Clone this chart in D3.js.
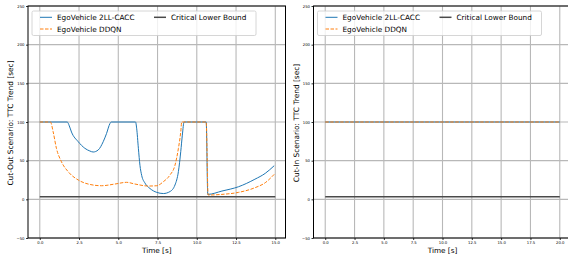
<!DOCTYPE html>
<html>
<head>
<meta charset="utf-8">
<script src="https://cdn.jsdelivr.net/npm/d3@7"></script>
<style>
  body { margin: 0; background: #fff; overflow: hidden; }
  svg text { font-family: "DejaVu Sans", sans-serif; }
</style>
</head>
<body>
<div id="chart"></div>
<script>
// data
var cutOutCaccTime = [0, 1.75, 1.88, 2.02, 2.45, 2.87, 3.19, 3.4, 3.72, 4.04, 4.25, 4.47, 4.55, 6.1, 6.17, 6.28, 6.38, 6.49, 6.7, 7.02, 7.45, 7.87, 8.29, 8.61, 8.83, 8.98, 9.08, 9.19, 10.6, 10.7, 11.6, 12.66, 13.7, 14.36, 14.93];
var cutOutCaccTTC  = [100, 100, 95, 87, 74.5, 66, 62.5, 61.2, 63.8, 74.5, 85, 98, 100, 100, 92, 66, 44, 31, 21, 14, 9, 7.5, 10, 18.5, 36, 62, 83, 100, 100, 6.4, 10.7, 16.3, 26, 33.6, 43.5];
var cutOutDdqnTime = [0, 0.68, 0.85, 1.06, 1.38, 1.81, 2.45, 3.08, 3.94, 4.79, 5.53, 6.06, 6.91, 7.45, 7.87, 8.29, 8.61, 8.83, 8.98, 9.04, 10.6, 10.72, 11.6, 12.66, 13.7, 14.36, 14.93];
var cutOutDdqnTTC  = [100, 100, 87.5, 66, 48.6, 35.7, 25, 19.8, 17.6, 19.8, 22, 19.8, 17.2, 17.6, 22.8, 31.4, 44, 66, 87.5, 100, 100, 5.6, 6.4, 9, 15, 21.5, 32.3];
var cutOutBoundTime = [0, 15];
var cutOutBoundTTC  = [3.5, 3.5];

var cutInTime  = [0, 20];
var cutInCacc  = [100, 100];
var cutInDdqn  = [100, 100];
var cutInBound = [3.5, 3.5];

var yTicks = [-50, 0, 50, 100, 150, 200, 250];
var cutOutXTicks = [0, 2.5, 5, 7.5, 10, 12.5, 15];
var cutInXTicks = [0, 2.5, 5, 7.5, 10, 12.5, 15, 17.5, 20];
var legendNames = ["EgoVehicle 2LL-CACC", "EgoVehicle DDQN", "Critical Lower Bound"];

var width = 568, height = 259;

var svg = d3.select("#chart").append("svg")
    .attr("width", width)
    .attr("height", height);

function zip(xs, ys) { return xs.map(function(x, i) { return [x, ys[i]]; }); }

function panel(opt) {
  var x = d3.scaleLinear().domain(opt.xDomain).range([opt.left, opt.right]);
  var y = d3.scaleLinear().domain([-50, 250]).range([238, 6]);

  var g = svg.append("g");

  // grid
  g.append("g").selectAll("line").data(opt.xTicks).enter().append("line")
    .attr("x1", function(d) { return x(d); }).attr("x2", function(d) { return x(d); })
    .attr("y1", 6).attr("y2", 238)
    .attr("stroke", "#b8b8b8").attr("stroke-width", 1.1);
  g.append("g").selectAll("line").data(yTicks).enter().append("line")
    .attr("x1", opt.left).attr("x2", opt.right)
    .attr("y1", function(d) { return y(d); }).attr("y2", function(d) { return y(d); })
    .attr("stroke", "#b8b8b8").attr("stroke-width", 1.1);

  var line = d3.line()
    .x(function(d) { return x(d[0]); })
    .y(function(d) { return y(d[1]); })
    .curve(d3.curveMonotoneX);

  g.append("path").datum(opt.bound)
    .attr("d", line).attr("fill", "none")
    .attr("stroke", "#4a4a4a").attr("stroke-width", 1.5);
  g.append("path").datum(opt.cacc)
    .attr("d", line).attr("fill", "none")
    .attr("stroke", "#1f77b4").attr("stroke-width", 1);
  g.append("path").datum(opt.ddqn)
    .attr("d", line).attr("fill", "none")
    .attr("stroke", "#ff7f0e").attr("stroke-width", 1)
    .attr("stroke-dasharray", "3.5,1.5");

  // axes
  var xAxis = d3.axisBottom(x).tickValues(opt.xTicks)
    .tickFormat(d3.format(".1f")).tickSize(2).tickPadding(1.5);
  var yAxis = d3.axisLeft(y).tickValues(yTicks)
    .tickFormat(d3.format("d")).tickSize(2).tickPadding(1.5);

  var gx = g.append("g").attr("transform", "translate(0,238)").call(xAxis);
  var gy = g.append("g").attr("transform", "translate(" + opt.left + ",0)").call(yAxis);
  [gx, gy].forEach(function(a) {
    a.select(".domain").remove();
    a.selectAll("text").attr("font-size", 3.8).attr("fill", "#000");
    a.selectAll("line").attr("stroke", "#000").attr("stroke-width", 0.8);
  });

  // spines
  g.append("rect")
    .attr("x", opt.left).attr("y", 6)
    .attr("width", opt.right - opt.left).attr("height", 232)
    .attr("fill", "none").attr("stroke", "#000").attr("stroke-width", 1);

  g.append("text")
    .attr("x", (opt.left + opt.right) / 2).attr("y", 253)
    .attr("text-anchor", "middle").attr("font-size", 7.3)
    .text("Time [s]");
  g.append("text")
    .attr("transform", "translate(" + (opt.left - 15) + ",123) rotate(-90)")
    .attr("text-anchor", "middle").attr("font-size", 7.4)
    .text(opt.ylabel);

  // legend
  var lx = opt.left + 4, ly = 11;
  var leg = g.append("g").attr("transform", "translate(" + lx + "," + ly + ")");
  leg.append("rect")
    .attr("width", 224).attr("height", 24.5).attr("rx", 1.5)
    .attr("fill", "#fff").attr("fill-opacity", 0.8)
    .attr("stroke", "#ccc").attr("stroke-width", 0.8);
  var items = [
    { name: legendNames[0], color: "#1f77b4", dash: null, w: 1, cx: 8, cy: 6.3 },
    { name: legendNames[1], color: "#ff7f0e", dash: "3.5,1.5", w: 1, cx: 8, cy: 18 },
    { name: legendNames[2], color: "#4a4a4a", dash: null, w: 1.5, cx: 122, cy: 6.3 }
  ];
  items.forEach(function(it) {
    leg.append("line")
      .attr("x1", it.cx).attr("x2", it.cx + 12)
      .attr("y1", it.cy).attr("y2", it.cy)
      .attr("stroke", it.color).attr("stroke-width", it.w)
      .attr("stroke-dasharray", it.dash);
    leg.append("text")
      .attr("x", it.cx + 17).attr("y", it.cy + 2.5)
      .attr("font-size", 7.3)
      .text(it.name);
  });
}

panel({
  left: 28, right: 285.5,
  xDomain: [-0.75, 15.65],
  xTicks: cutOutXTicks,
  ylabel: "Cut-Out Scenario: TTC Trend [sec]",
  cacc: zip(cutOutCaccTime, cutOutCaccTTC),
  ddqn: zip(cutOutDdqnTime, cutOutDdqnTTC),
  bound: zip(cutOutBoundTime, cutOutBoundTTC)
});

panel({
  left: 313.5, right: 571.5,
  xDomain: [-1, 21],
  xTicks: cutInXTicks,
  ylabel: "Cut-In Scenario: TTC Trend [sec]",
  cacc: zip(cutInTime, cutInCacc),
  ddqn: zip(cutInTime, cutInDdqn),
  bound: zip(cutInTime, cutInBound)
});
</script>
</body>
</html>
